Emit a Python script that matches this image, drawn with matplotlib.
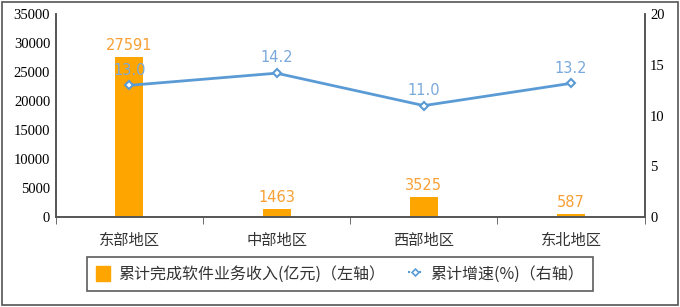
import matplotlib
matplotlib.use("Agg")
import matplotlib.pyplot as plt
from matplotlib.patches import Rectangle
from matplotlib.lines import Line2D

plt.rcParams['font.family'] = ['Liberation Serif', 'Noto Sans CJK SC']

regions = ["东部地区", "中部地区", "西部地区", "东北地区"]
revenue = [27591, 1463, 3525, 587]      # 亿元
growth = [13.0, 14.2, 11.0, 13.2]       # %

BAR_COLOR = "#FFA500"
LINE_COLOR = "#5B9BD5"
BAR_LABEL = "#F7A035"
LINE_LABEL = "#7AA8DA"

fig = plt.figure(figsize=(6.8, 3.07), dpi=100)
fig.patches.append(Rectangle((0.003, 0.005), 0.994, 0.99, transform=fig.transFigure,
                             fill=False, edgecolor="#555555", linewidth=1.2))
ax = fig.add_axes([0.082, 0.293, 0.866, 0.66])
ax2 = ax.twinx()

x = list(range(len(regions)))
ax.bar(x, revenue, width=0.19, color=BAR_COLOR, zorder=2)
for xi, v in zip(x, revenue):
    ax.text(xi, v + 700, str(v), ha="center", va="bottom", color=BAR_LABEL,
            fontsize=10.5, family="DejaVu Sans")

ax2.plot(x, growth, color=LINE_COLOR, linewidth=2, marker="D", markersize=4,
         markerfacecolor="white", markeredgecolor=LINE_COLOR, markeredgewidth=1.5)
for xi, v in zip(x, growth):
    ax2.text(xi, v + 1.5, f"{v:.1f}", ha="center", va="center", color=LINE_LABEL,
             fontsize=10.5, family="DejaVu Sans")

ax.set_xlim(-0.5, 3.5)
ax.set_ylim(0, 35000)
ax.set_yticks(range(0, 35001, 5000))
ax2.set_ylim(0, 20)
ax2.set_yticks(range(0, 21, 5))

ax.set_xticks(x)
ax.set_xticklabels(regions, family="Noto Sans CJK SC", fontsize=11, color="#333333")
ax.set_xticks([-0.5, 0.5, 1.5, 2.5, 3.5], minor=True)
ax.tick_params(axis="x", which="major", length=0, pad=11)
ax.tick_params(axis="x", which="minor", length=5, color="#555555")
ax.tick_params(axis="y", length=0, labelsize=10.5, pad=4)
ax2.tick_params(axis="y", length=0, labelsize=10.5, pad=4)

for a in (ax, ax2):
    a.spines["top"].set_visible(False)
    for s in ("left", "right", "bottom"):
        a.spines[s].set_color("#555555")
        a.spines[s].set_linewidth(1.2)

handles = [
    Rectangle((0, 0), 1, 1, color=BAR_COLOR),
    Line2D([], [], color=LINE_COLOR, linestyle=":", linewidth=1.5, marker="D",
           markersize=3.5, markerfacecolor="white", markeredgecolor=LINE_COLOR,
           markeredgewidth=1.2),
]
labels = ["累计完成软件业务收入(亿元)（左轴）", "累计增速(%)（右轴）"]
leg = fig.legend(handles, labels, loc="center", bbox_to_anchor=(0.5, 0.107), ncol=2,
                 frameon=True, fancybox=False, edgecolor="#333333", handlelength=0.9,
                 handleheight=1.1, handletextpad=0.5, columnspacing=1.4,
                 borderpad=0.55, prop={"family": ["Noto Sans CJK SC"], "size": 11.5})
leg.get_frame().set_linewidth(1.2)
for t in leg.get_texts():
    t.set_color("#333333")

fig.savefig("out.png", dpi=100)
